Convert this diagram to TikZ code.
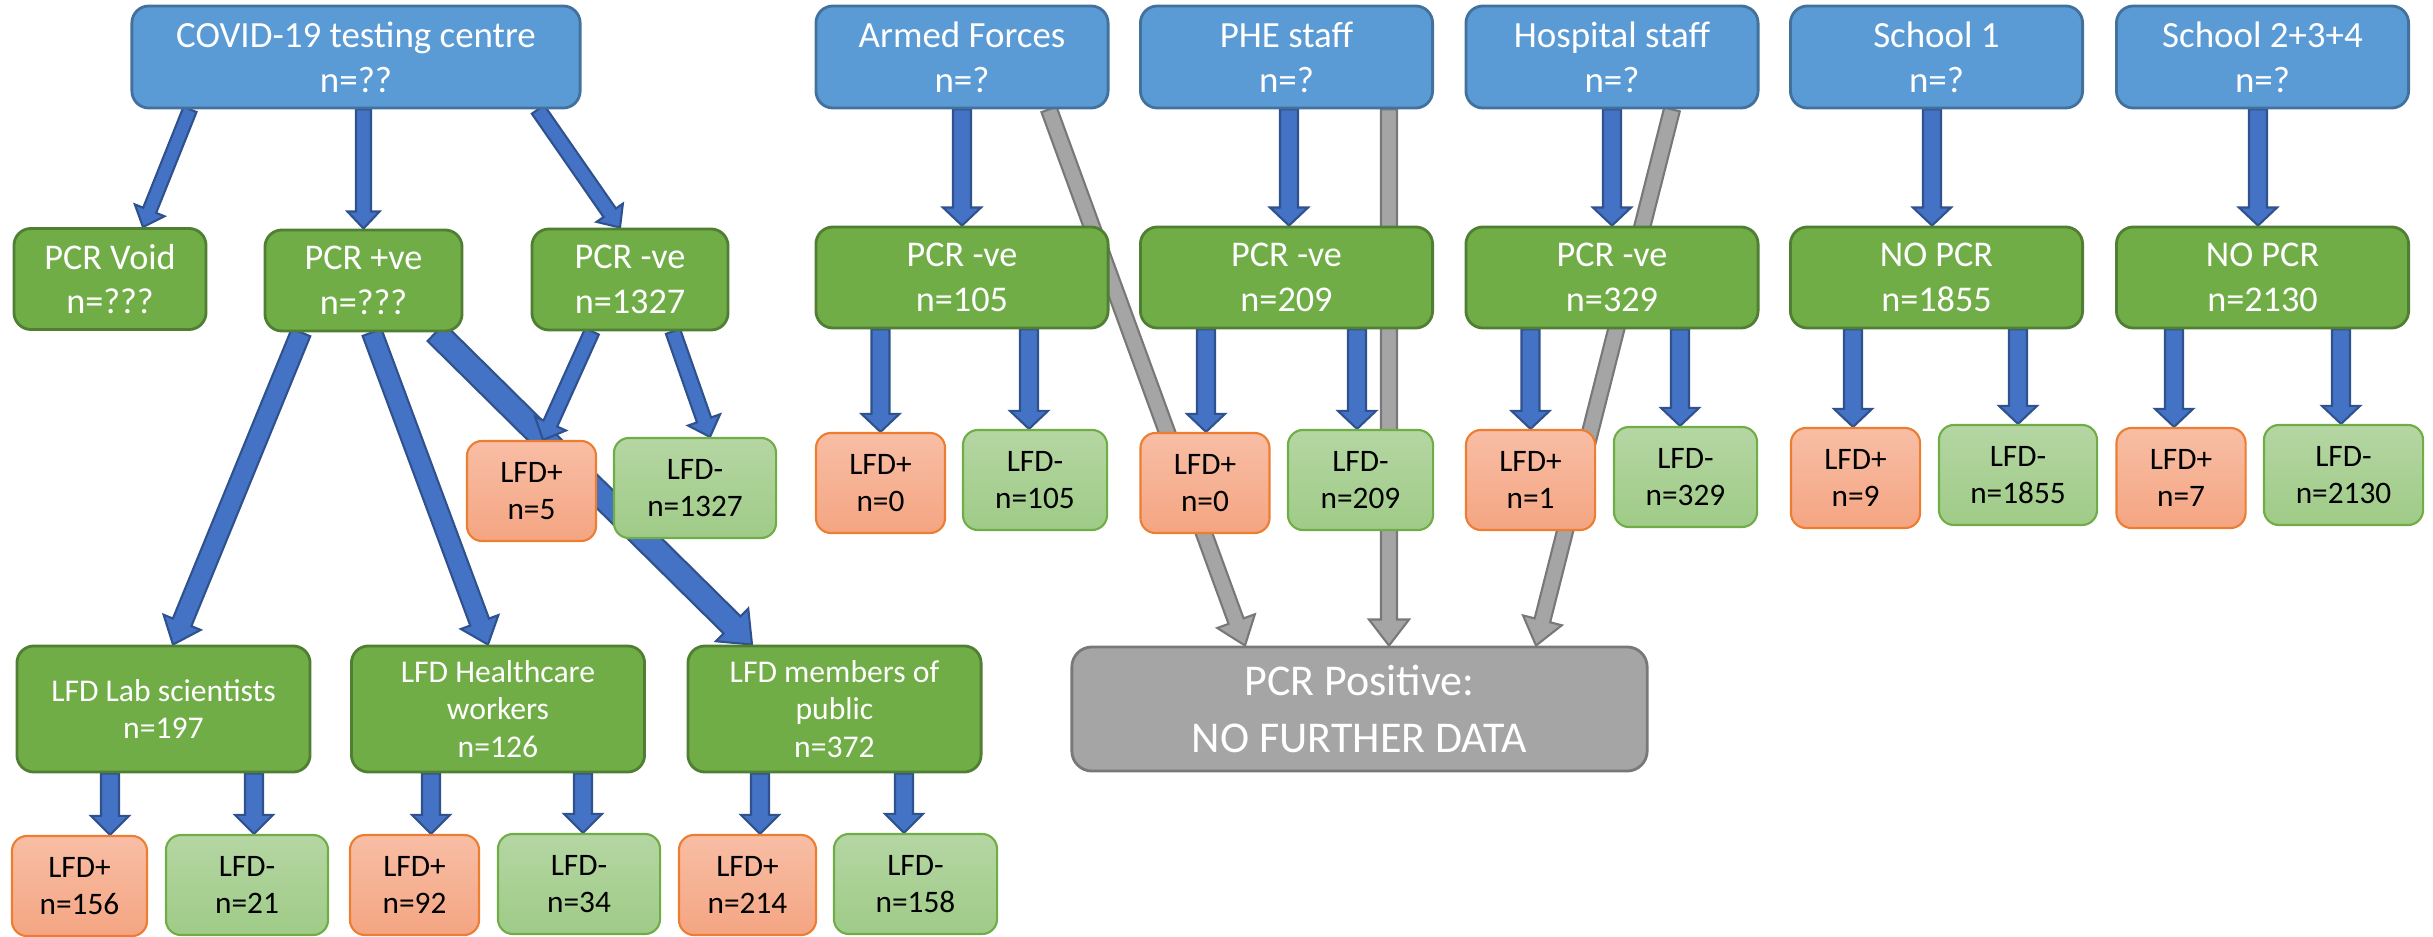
\documentclass[tikz,border=0pt]{standalone}
\usepackage{fontspec}
\setmainfont{Carlito}
\usetikzlibrary{calc,backgrounds}

\definecolor{topfill}{HTML}{5B9BD5}
\definecolor{topedge}{HTML}{41719C}
\definecolor{midfill}{HTML}{70AD47}
\definecolor{midedge}{HTML}{507E32}
\definecolor{postop}{HTML}{F8BEA5}
\definecolor{posbot}{HTML}{F4A582}
\definecolor{posedge}{HTML}{ED7D31}
\definecolor{negtop}{HTML}{B5D6A3}
\definecolor{negbot}{HTML}{9FCB87}
\definecolor{negedge}{HTML}{70AD47}
\definecolor{endfill}{HTML}{A5A5A5}
\definecolor{endedge}{HTML}{787878}
\definecolor{arrfill}{HTML}{4472C4}
\definecolor{arredge}{HTML}{2F528F}

% block arrow: [style]{from}{to}{half shaft}{half head}{head length}
\newcommand\blockarrow[6][barrow]{%
  \path (#2) coordinate (ba) (#3) coordinate (bb);
  \path ($(bb)!#6!(ba)$) coordinate (bh);
  \draw[#1] ($(ba)!#4!90:(bb)$) -- ($(bh)!#4!90:(bb)$) -- ($(bh)!#5!90:(bb)$) -- (bb)
    -- ($(bh)!#5!-90:(bb)$) -- ($(bh)!#4!-90:(bb)$) -- ($(ba)!#4!-90:(bb)$) -- cycle;
}

\begin{document}
\begin{tikzpicture}[x=0.01cm,y=-0.01cm,
    topbox/.style={draw=topedge,fill=topfill,line width=0.8pt,rounded corners=0.17cm,
      text=white,align=center,minimum width=2.92cm,minimum height=1.02cm,
      font=\fontsize{10.5}{12.8}\selectfont},
    midbox/.style={draw=midedge,fill=midfill,line width=0.8pt,rounded corners=0.17cm,
      text=white,align=center,minimum width=2.92cm,minimum height=1.01cm,
      font=\fontsize{10.3}{12.6}\selectfont},
    grpbox/.style={midbox,minimum width=2.93cm,minimum height=1.26cm,
      font=\fontsize{9}{10.7}\selectfont},
    endbox/.style={draw=endedge,fill=endfill,line width=0.8pt,rounded corners=0.2cm,
      text=white,align=center,minimum width=5.75cm,minimum height=1.24cm,
      font=\fontsize{12.5}{16}\selectfont},
    lfdpos/.style={draw=posedge,top color=postop,bottom color=posbot,line width=0.6pt,
      rounded corners=0.15cm,align=center,minimum width=1.29cm,minimum height=1cm,
      font=\fontsize{8.9}{10.5}\selectfont},
    lfdneg/.style={lfdpos,draw=negedge,top color=negtop,bottom color=negbot,
      minimum width=1.62cm},
    barrow/.style={fill=arrfill,draw=arredge,line width=0.6pt},
    garrow/.style={fill=endfill,draw=endedge,line width=0.6pt}]
  \useasboundingbox (0,0) rectangle (2433,937);

  % sources
  \node[topbox,minimum width=4.48cm] (cov) at (356,57) {COVID-19 testing centre\\n=??};
  \node[topbox] (armed) at (962,57) {Armed Forces\\n=?};
  \node[topbox] (phe) at (1286.5,57) {PHE staff\\n=?};
  \node[topbox] (hosp) at (1612,57) {Hospital staff\\n=?};
  \node[topbox] (schA) at (1936.5,57) {School 1\\n=?};
  \node[topbox] (schB) at (2262.5,57) {School 2+3+4\\n=?};

  % PCR results
  \node[midbox,minimum width=1.92cm] (void) at (110,279) {PCR Void\\n=???};
  \node[midbox,minimum width=1.97cm] (pos) at (363.5,280.5) {PCR +ve\\n=???};
  \node[midbox,minimum width=1.96cm] (neg) at (630,279.5) {PCR -ve\\n=1327};
  \node[midbox] (negA) at (962,277.5) {PCR -ve\\n=105};
  \node[midbox] (negP) at (1286.5,277.5) {PCR -ve\\n=209};
  \node[midbox] (negH) at (1612,277.5) {PCR -ve\\n=329};
  \node[midbox] (nopA) at (1936.5,277.5) {NO PCR\\n=1855};
  \node[midbox] (nopB) at (2262.5,277.5) {NO PCR\\n=2130};

  % LFD results, upper row
  \node[lfdpos] (pN) at (531.5,491) {LFD+\\n=5};
  \node[lfdneg] (mN) at (695,488) {LFD-\\n=1327};
  \node[lfdpos] (pA) at (880.5,483) {LFD+\\n=0};
  \node[lfdneg,minimum width=1.44cm] (mA) at (1035,480) {LFD-\\n=105};
  \node[lfdpos] (pP) at (1205,483) {LFD+\\n=0};
  \node[lfdneg,minimum width=1.45cm] (mP) at (1360.5,480) {LFD-\\n=209};
  \node[lfdpos] (pH) at (1530.5,480) {LFD+\\n=1};
  \node[lfdneg,minimum width=1.43cm] (mH) at (1685.5,477) {LFD-\\n=329};
  \node[lfdpos] (pS) at (1855.5,478) {LFD+\\n=9};
  \node[lfdneg,minimum width=1.58cm] (mS) at (2018,475) {LFD-\\n=1855};
  \node[lfdpos] (pT) at (2181,478) {LFD+\\n=7};
  \node[lfdneg,minimum width=1.59cm] (mT) at (2343.5,475) {LFD-\\n=2130};

  % LFD groups
  \node[grpbox] (lab) at (163.5,709) {LFD Lab scientists\\n=197};
  \node[grpbox] (hcw) at (498,709) {LFD Healthcare\\workers\\n=126};
  \node[grpbox] (pub) at (834.5,709) {LFD members of\\public\\n=372};
  \node[endbox] (nodata) at (1359.5,709) {PCR Positive:\\NO FURTHER DATA};

  % LFD results, lower row
  \node[lfdpos,minimum width=1.35cm] (pLab) at (79.5,886) {LFD+\\n=156};
  \node[lfdneg] (mLab) at (247,885) {LFD-\\n=21};
  \node[lfdpos] (pHcw) at (414.5,885) {LFD+\\n=92};
  \node[lfdneg] (mHcw) at (579,884) {LFD-\\n=34};
  \node[lfdpos,minimum width=1.37cm] (pPub) at (747.5,885) {LFD+\\n=214};
  \node[lfdneg,minimum width=1.63cm] (mPub) at (915.5,884) {LFD-\\n=158};

  \begin{pgfonlayer}{background}
    % positives leave the study
    \blockarrow[garrow]{armed.south -| 1049,0}{nodata.north -| 1245,0}{.08cm}{.2cm}{.26cm}
    \blockarrow[garrow]{phe.south -| 1389,0}{nodata.north -| 1389,0}{.08cm}{.2cm}{.26cm}
    \blockarrow[garrow]{hosp.south -| 1672,0}{nodata.north -| 1536,0}{.08cm}{.2cm}{.26cm}
    % testing centre
    \blockarrow{cov.south -| 190,0}{void.north -| 143,0}{.07cm}{.16cm}{.18cm}
    \blockarrow{cov.south -| pos.north}{pos.north}{.075cm}{.16cm}{.17cm}
    \blockarrow{cov.south -| 538,0}{neg.north -| 620,0}{.075cm}{.16cm}{.18cm}
    \blockarrow{pos.south -| 301,0}{lab.north -| 173,0}{.1cm}{.2cm}{.24cm}
    \blockarrow{pos.south -| 372,0}{hcw.north -| 488,0}{.1cm}{.2cm}{.24cm}
    \blockarrow{pos.south -| 436,0}{pub.north -| 752,0}{.12cm}{.23cm}{.28cm}
    \blockarrow{neg.south -| 592,0}{pN.north -| 543,0}{.075cm}{.17cm}{.18cm}
    \blockarrow{neg.south -| 673,0}{mN.north -| 710,0}{.075cm}{.17cm}{.18cm}
    % groups
    \blockarrow{lab.south -| 110,0}{pLab.north -| 110,0}{.09cm}{.19cm}{.19cm}
    \blockarrow{lab.south -| 254,0}{mLab.north -| 254,0}{.09cm}{.19cm}{.19cm}
    \blockarrow{hcw.south -| 431,0}{pHcw.north -| 431,0}{.09cm}{.19cm}{.19cm}
    \blockarrow{hcw.south -| 583,0}{mHcw.north -| 583,0}{.09cm}{.19cm}{.19cm}
    \blockarrow{pub.south -| 760,0}{pPub.north -| 760,0}{.09cm}{.19cm}{.19cm}
    \blockarrow{pub.south -| 904,0}{mPub.north -| 904,0}{.09cm}{.19cm}{.19cm}
    % staff and schools
    \blockarrow{armed.south}{negA.north}{.09cm}{.19cm}{.18cm}
    \blockarrow{phe.south -| 1289,0}{negP.north -| 1289,0}{.09cm}{.19cm}{.18cm}
    \blockarrow{hosp.south}{negH.north}{.09cm}{.19cm}{.18cm}
    \blockarrow{schA.south -| 1932,0}{nopA.north -| 1932,0}{.09cm}{.19cm}{.18cm}
    \blockarrow{schB.south -| 2258,0}{nopB.north -| 2258,0}{.09cm}{.19cm}{.18cm}
    \blockarrow{negA.south -| pA.north}{pA.north}{.09cm}{.19cm}{.18cm}
    \blockarrow{negA.south -| 1029,0}{mA.north -| 1029,0}{.09cm}{.19cm}{.18cm}
    \blockarrow{negP.south -| 1206,0}{pP.north -| 1206,0}{.09cm}{.19cm}{.18cm}
    \blockarrow{negP.south -| 1357,0}{mP.north -| 1357,0}{.09cm}{.19cm}{.18cm}
    \blockarrow{negH.south -| pH.north}{pH.north}{.09cm}{.19cm}{.18cm}
    \blockarrow{negH.south -| 1680,0}{mH.north -| 1680,0}{.09cm}{.19cm}{.18cm}
    \blockarrow{nopA.south -| 1853,0}{pS.north -| 1853,0}{.09cm}{.19cm}{.18cm}
    \blockarrow{nopA.south -| mS.north}{mS.north}{.09cm}{.19cm}{.18cm}
    \blockarrow{nopB.south -| 2174,0}{pT.north -| 2174,0}{.09cm}{.19cm}{.18cm}
    \blockarrow{nopB.south -| 2341,0}{mT.north -| 2341,0}{.09cm}{.19cm}{.18cm}
  \end{pgfonlayer}
\end{tikzpicture}
\end{document}
